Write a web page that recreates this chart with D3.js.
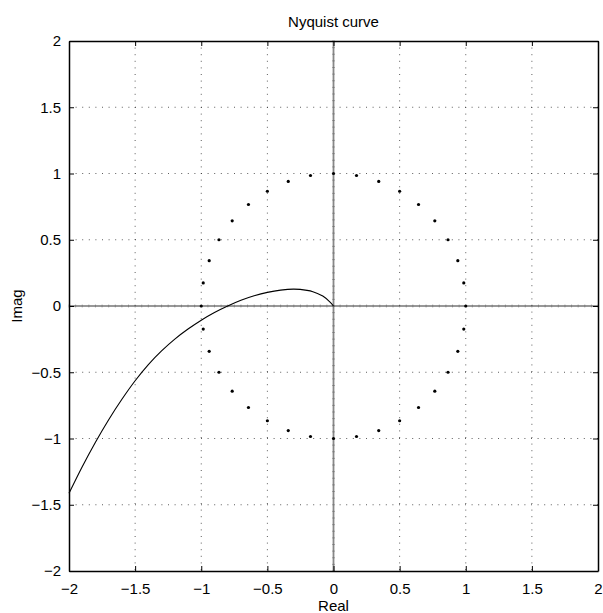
<!DOCTYPE html>
<html>
<head>
<meta charset="utf-8">
<script src="https://cdn.jsdelivr.net/npm/d3@7"></script>
<style>
  body { margin: 0; background: #fff; }
  svg { display: block; font-family: "Liberation Sans", Arial, sans-serif; }
</style>
</head>
<body>
<div id="vis-svg"></div>
<script>
// tick labels
const tickValues = [-2, -1.5, -1, -0.5, 0, 0.5, 1, 1.5, 2];

// Nyquist curve
const curveRe = [-2.0, -1.9, -1.8, -1.7, -1.6, -1.5, -1.4, -1.3, -1.2, -1.1, -1.0, -0.9, -0.8, -0.7, -0.6, -0.5, -0.4, -0.3, -0.2, -0.156, -0.081, -0.03, 0];
const curveIm = [-1.414, -1.213, -1.028, -0.858, -0.704, -0.564, -0.442, -0.339, -0.25, -0.174, -0.107, -0.049, 0, 0.043, 0.077, 0.103, 0.12, 0.127, 0.118, 0.108, 0.075, 0.033, 0];

// unit circle markers (every 10 degrees)
const dotRe = [1, 0.985, 0.94, 0.866, 0.766, 0.643, 0.5, 0.342, 0.174, 0, -0.174, -0.342, -0.5, -0.643, -0.766, -0.866, -0.94, -0.985,
  -1, -0.985, -0.94, -0.866, -0.766, -0.643, -0.5, -0.342, -0.174, 0, 0.174, 0.342, 0.5, 0.643, 0.766, 0.866, 0.94, 0.985];
const dotIm = [0, 0.174, 0.342, 0.5, 0.643, 0.766, 0.866, 0.94, 0.985, 1, 0.985, 0.94, 0.866, 0.766, 0.643, 0.5, 0.342, 0.174,
  0, -0.174, -0.342, -0.5, -0.643, -0.766, -0.866, -0.94, -0.985, -1, -0.985, -0.94, -0.866, -0.766, -0.643, -0.5, -0.342, -0.174];

const margin = { top: 41, right: 5, bottom: 42, left: 69 },
  width = 603 - margin.left - margin.right,
  height = 613 - margin.top - margin.bottom;

const svg = d3.select("#vis-svg").append("svg")
  .attr("width", 603)
  .attr("height", 613);

const g = svg.append("g")
  .attr("transform", "translate(" + margin.left + "," + margin.top + ")");

const x = d3.scaleLinear().domain([-2, 2]).range([0, width]);
const y = d3.scaleLinear().domain([-2, 2]).range([height, 0]);

// dotted grid
const gridVals = tickValues.slice(1, -1).filter(function (d) { return d != 0; });
g.selectAll(".vgrid")
  .data(gridVals)
  .enter().append("line")
    .attr("x1", function (d) { return x(d); })
    .attr("x2", function (d) { return x(d); })
    .attr("y1", 0).attr("y2", height)
    .attr("stroke", "#333")
    .attr("stroke-width", 0.8)
    .attr("stroke-dasharray", "1,5.6");

g.selectAll(".hgrid")
  .data(gridVals)
  .enter().append("line")
    .attr("y1", function (d) { return y(d); })
    .attr("y2", function (d) { return y(d); })
    .attr("x1", 0).attr("x2", width)
    .attr("stroke", "#333")
    .attr("stroke-width", 0.8)
    .attr("stroke-dasharray", "1,5.6");

// zero lines with small ticks
const minor = d3.range(-40, 41).map(function (i) { return i * 0.05; });
g.append("line")
  .attr("x1", x(0)).attr("x2", x(0))
  .attr("y1", 0).attr("y2", height)
  .attr("stroke", "#888").attr("stroke-width", 1.8);
g.selectAll(".vminor").data(minor).enter().append("line")
  .attr("x1", x(0) - 1.5).attr("x2", x(0) + 1.5)
  .attr("y1", function (d) { return y(d); })
  .attr("y2", function (d) { return y(d); })
  .attr("stroke", "#666").attr("stroke-width", 0.5);
g.append("line")
  .attr("x1", 0).attr("x2", width)
  .attr("y1", y(0)).attr("y2", y(0))
  .attr("stroke", "#333").attr("stroke-width", 1.2);
g.selectAll(".hminor").data(minor).enter().append("line")
  .attr("y1", y(0) - 1.5).attr("y2", y(0) + 1.5)
  .attr("x1", function (d) { return x(d); })
  .attr("x2", function (d) { return x(d); })
  .attr("stroke", "#666").attr("stroke-width", 0.5);

// curve
const line = d3.line()
  .x(function (d) { return x(d[0]); })
  .y(function (d) { return y(d[1]); })
  .curve(d3.curveCatmullRom.alpha(0.5));

g.append("path")
  .datum(curveRe.map(function (r, i) { return [r, curveIm[i]]; }))
  .attr("d", line)
  .attr("fill", "none")
  .attr("stroke", "#000")
  .attr("stroke-width", 1.1);

// unit circle dots
g.selectAll(".dot")
  .data(dotRe.map(function (r, i) { return [r, dotIm[i]]; }))
  .enter().append("circle")
    .attr("cx", function (d) { return x(d[0]); })
    .attr("cy", function (d) { return y(d[1]); })
    .attr("r", 1.6)
    .attr("fill", "#000");

// axes (box with inward ticks on all sides)
const fmt = function (d) { return d < 0 ? "\u2212" + Math.abs(d) : String(d); };

g.append("g")
  .attr("transform", "translate(0," + height + ")")
  .call(d3.axisBottom(x).tickValues(tickValues).tickSizeInner(-5).tickSizeOuter(0).tickPadding(12).tickFormat(fmt));
g.append("g")
  .call(d3.axisLeft(y).tickValues(tickValues).tickSizeInner(-5).tickSizeOuter(0).tickPadding(8).tickFormat(fmt));
g.append("g")
  .call(d3.axisTop(x).tickValues(tickValues).tickSizeInner(-5).tickSizeOuter(0).tickFormat(""));
g.append("g")
  .attr("transform", "translate(" + width + ",0)")
  .call(d3.axisRight(y).tickValues(tickValues).tickSizeInner(-5).tickSizeOuter(0).tickFormat(""));

g.selectAll(".domain").attr("stroke", "#000").attr("stroke-width", 1.5);
g.selectAll(".tick line").attr("stroke", "#000");
g.selectAll(".tick text")
  .style("font-size", "15px")
  .style("font-family", "'Liberation Sans', Arial, sans-serif")
  .attr("fill", "#000");

// title and labels
svg.append("text")
  .attr("x", margin.left + width / 2)
  .attr("y", 27)
  .attr("text-anchor", "middle")
  .style("font-size", "15px")
  .text("Nyquist curve");

svg.append("text")
  .attr("x", margin.left + width / 2)
  .attr("y", 611)
  .attr("text-anchor", "middle")
  .style("font-size", "15px")
  .text("Real");

svg.append("text")
  .attr("transform", "translate(22," + (margin.top + height / 2) + ") rotate(-90)")
  .attr("text-anchor", "middle")
  .style("font-size", "15px")
  .text("Imag");
</script>
</body>
</html>
